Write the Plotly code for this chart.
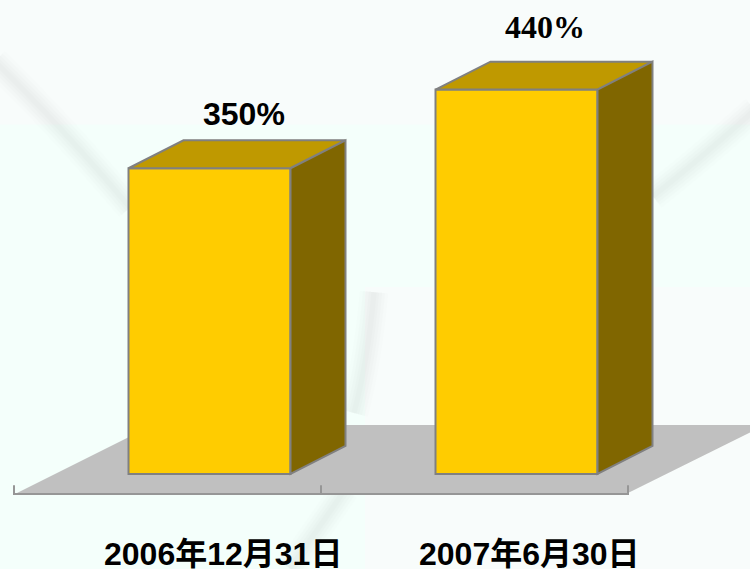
#!/usr/bin/env python3
# -*- coding: utf-8 -*-
import plotly.graph_objs as go

categories = ["2006年12月31日", "2007年6月30日"]
values = [350, 440]
value_labels = ["350%", "440%"]

# geometry in axis units (x axis is 750 wide, y axis is in percent)
BAR_CENTERS = [209.5, 516.5]
BAR_WIDTH = 162
DEPTH_X = 55
DEPTH_Y = 32
Y_RANGE = [-108.8, 542.6]
FLOOR_BASE = -21.8
FLOOR_BACK = 56
EDGE = "#808080"
PALE = "#f8fcfb"

fig = go.Figure()

# front faces
fig.add_trace(go.Bar(
    x=BAR_CENTERS, y=values, width=BAR_WIDTH,
    marker=dict(color="#ffcc00", line=dict(color=EDGE, width=2)),
))

# top and side faces follow each bar's value
for center, value in zip(BAR_CENTERS, values):
    left = center - BAR_WIDTH / 2
    right = center + BAR_WIDTH / 2
    fig.add_trace(go.Scatter(
        x=[left, left + DEPTH_X, right + DEPTH_X, right, left],
        y=[value, value + DEPTH_Y, value + DEPTH_Y, value, value],
        mode="lines", fill="toself", fillcolor="#bf9900",
        line=dict(color=EDGE, width=2),
    ))
    fig.add_trace(go.Scatter(
        x=[right, right + DEPTH_X, right + DEPTH_X, right, right],
        y=[value, value + DEPTH_Y, DEPTH_Y, 0, value],
        mode="lines", fill="toself", fillcolor="#806600",
        line=dict(color=EDGE, width=2),
    ))

# category axis with its ticks
fig.add_trace(go.Scatter(
    x=[14, 14, 321, 321, 321, 628, 628],
    y=[-13, -23, -23, -13, -23, -23, -13],
    mode="lines", line=dict(color="#969696", width=2),
))

shapes = [
    # floor
    dict(type="path", xref="x", yref="y", layer="below", line_width=0,
         fillcolor="#c0c0c0",
         path=f"M 17 {FLOOR_BASE} L 153 {FLOOR_BACK} L 765 {FLOOR_BACK} L 628 {FLOOR_BASE} Z"),
]
# soft grey streaks of the backdrop
streaks = [
    "M -5 472 Q 60 400 130 305",
    "M 653 318 Q 700 360 755 417",
    "M 374 208 Q 368 130 354 70",
    "M 345 -18 Q 320 -60 290 -108",
]
for path in streaks:
    for width, alpha in [(28, 0.01), (22, 0.014), (16, 0.018), (10, 0.02), (5, 0.02)]:
        shapes.insert(0, dict(type="path", xref="x", yref="y", layer="below",
                              path=path, line=dict(color="#808080", width=width),
                              opacity=alpha))
# paler panels of the backdrop, under the streaks
shapes.insert(0, dict(type="rect", xref="x", yref="y", layer="below", line_width=0,
                      x0=0, x1=750, y0=400, y1=Y_RANGE[1], fillcolor=PALE))
shapes.insert(0, dict(type="rect", xref="x", yref="y", layer="below", line_width=0,
                      x0=365, x1=750, y0=Y_RANGE[0], y1=214, fillcolor=PALE))

annotations = []
label_at = [(244, 412), (545, 511.7)]
label_font = ["Liberation Sans", "Liberation Serif"]
for text, (x, y), family in zip(value_labels, label_at, label_font):
    annotations.append(dict(
        text=f"<b>{text}</b>", x=x, y=y, xref="x", yref="y", showarrow=False,
        font=dict(family=family, size=32, color="#000000"),
    ))
for text, x in zip(categories, [223, 529]):
    annotations.append(dict(
        text=f"<b>{text}</b>", x=x, y=-92, xref="x", yref="y", showarrow=False,
        font=dict(family="Liberation Sans, Noto Sans CJK SC", size=32, color="#000000"),
    ))

fig.update_layout(
    width=750, height=569,
    margin=dict(l=0, r=0, t=0, b=0),
    paper_bgcolor="#f4fffb", plot_bgcolor="rgba(0,0,0,0)",
    showlegend=False,
    shapes=shapes,
    annotations=annotations,
    xaxis=dict(range=[0, 750], visible=False, fixedrange=True),
    yaxis=dict(range=Y_RANGE, visible=False, fixedrange=True),
)

fig.write_html("out.html", config=dict(displayModeBar=False),
               post_script="document.body.style.margin='0';")
